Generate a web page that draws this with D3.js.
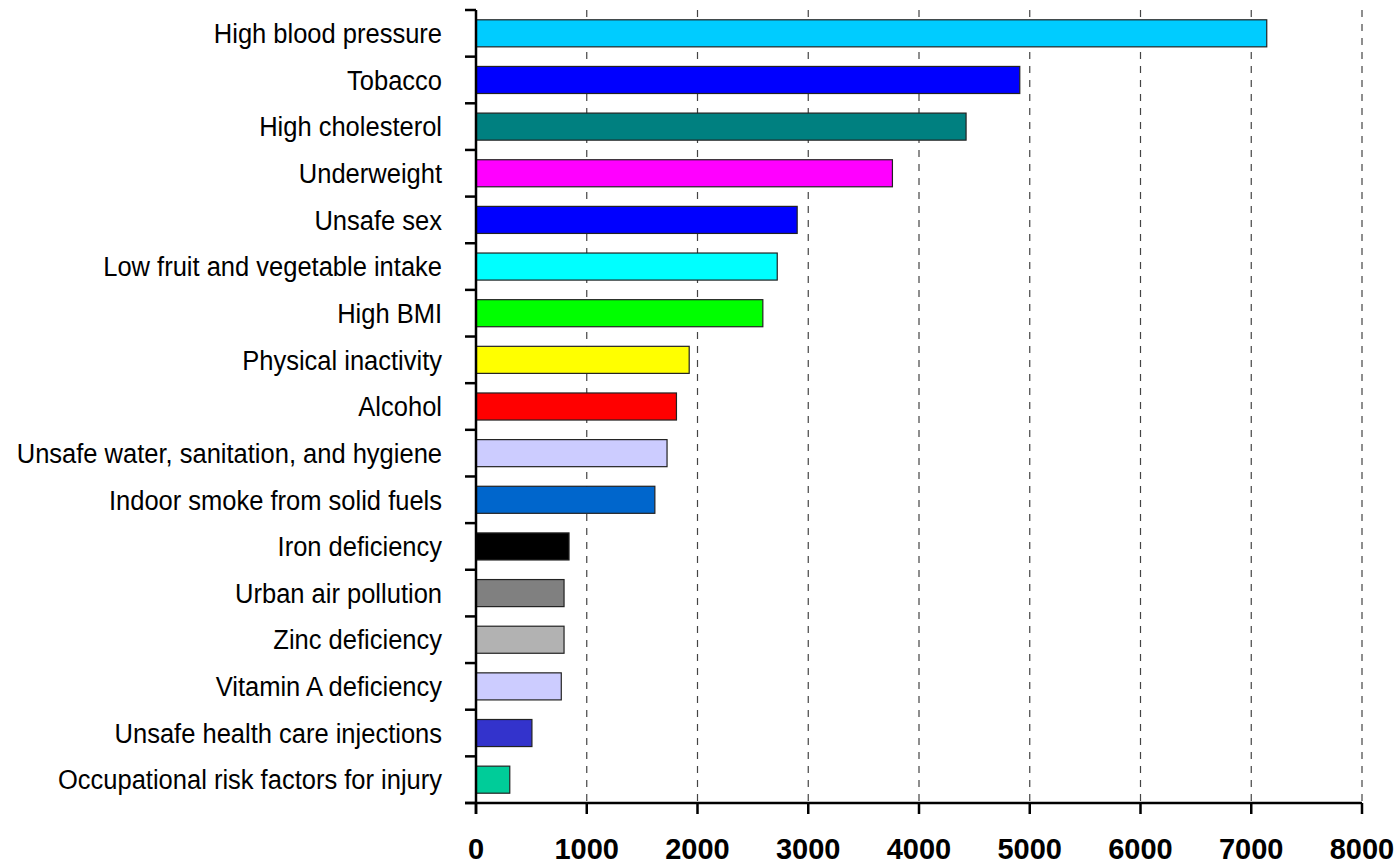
<!DOCTYPE html>
<html>
<head>
<meta charset="utf-8">
<script src="https://cdn.jsdelivr.net/npm/d3@7"></script>
<style>
  html, body { margin: 0; padding: 0; background: #fff; }
  svg { display: block; }
</style>
</head>
<body>
<svg id="chart" width="1400" height="865"></svg>
<script>
const categories = [
  "High blood pressure", "Tobacco", "High cholesterol", "Underweight", "Unsafe sex",
  "Low fruit and vegetable intake", "High BMI", "Physical inactivity", "Alcohol",
  "Unsafe water, sanitation, and hygiene", "Indoor smoke from solid fuels",
  "Iron deficiency", "Urban air pollution", "Zinc deficiency", "Vitamin A deficiency",
  "Unsafe health care injections", "Occupational risk factors for injury"
];
const values = [7140, 4910, 4425, 3760, 2900, 2720, 2590, 1925, 1810, 1725, 1615, 840, 795, 795, 770, 505, 305];
const colors = [
  "#00CCFF", "#0000FF", "#008080", "#FF00FF", "#0000FF", "#00FFFF", "#00FF00",
  "#FFFF00", "#FF0000", "#CCCCFF", "#0066CC", "#000000", "#808080", "#B2B2B2",
  "#CCCCFF", "#3333CC", "#00CC99"
];
const xTicks = [0, 1000, 2000, 3000, 4000, 5000, 6000, 7000, 8000];

(function () {
const svg = d3.select("#chart");
const mLeft = 476, mRight = 1362, mTop = 10, mBottom = 803;

const x = d3.scaleLinear().domain([0, 8000]).range([mLeft, mRight]);
const y = d3.scaleBand().domain(categories).range([mTop, mBottom]).paddingInner(0.42).paddingOuter(0.21);

// gridlines
svg.append("g").selectAll("line").data(xTicks.filter(d => d > 0)).join("line")
  .attr("x1", d => x(d)).attr("x2", d => x(d))
  .attr("y1", mTop).attr("y2", mBottom)
  .attr("stroke", "#444").attr("stroke-width", 1.2)
  .attr("stroke-dasharray", "7,7");

// bars
svg.append("g").selectAll("rect").data(categories).join("rect")
  .attr("x", x(0))
  .attr("y", d => y(d))
  .attr("width", (d, i) => x(values[i]) - x(0))
  .attr("height", y.bandwidth())
  .attr("fill", (d, i) => colors[i])
  .attr("stroke", "#222")
  .attr("stroke-width", 1.2);

// y axis line
svg.append("line").attr("x1", mLeft).attr("x2", mLeft).attr("y1", mTop).attr("y2", mBottom + 11)
  .attr("stroke", "#000").attr("stroke-width", 2.5);

// y ticks at band boundaries
const step = y.step();
const bounds = d3.range(categories.length + 1).map(i => mTop + i * step);
svg.append("g").selectAll("line").data(bounds).join("line")
  .attr("x1", mLeft - 11).attr("x2", mLeft)
  .attr("y1", d => d).attr("y2", d => d)
  .attr("stroke", "#000").attr("stroke-width", 2.5);

// x axis line
svg.append("line").attr("x1", mLeft - 11).attr("x2", mRight).attr("y1", mBottom).attr("y2", mBottom)
  .attr("stroke", "#000").attr("stroke-width", 2.5);

// x ticks
svg.append("g").selectAll("line").data(xTicks).join("line")
  .attr("x1", d => x(d)).attr("x2", d => x(d))
  .attr("y1", mBottom).attr("y2", mBottom + 11)
  .attr("stroke", "#000").attr("stroke-width", 2.5);

// x tick labels
svg.append("g").selectAll("text").data(xTicks).join("text")
  .attr("x", d => x(d)).attr("y", 859)
  .attr("text-anchor", "middle")
  .attr("font-family", "Liberation Sans, Arial, sans-serif")
  .attr("font-weight", "bold")
  .attr("font-size", 29)
  .attr("fill", "#000")
  .text(d => d);

// category labels (condensed horizontally to mimic a narrow face)
svg.append("g").selectAll("text").data(categories).join("text")
  .attr("transform", d => `translate(442,${y(d) + y.bandwidth() / 2}) scale(0.945,1)`)
  .attr("dy", "0.36em")
  .attr("text-anchor", "end")
  .attr("font-family", "Liberation Sans, Arial, sans-serif")
  .attr("font-size", 27)
  .attr("fill", "#000")
  .text(d => d);
})();
</script>
</body>
</html>
